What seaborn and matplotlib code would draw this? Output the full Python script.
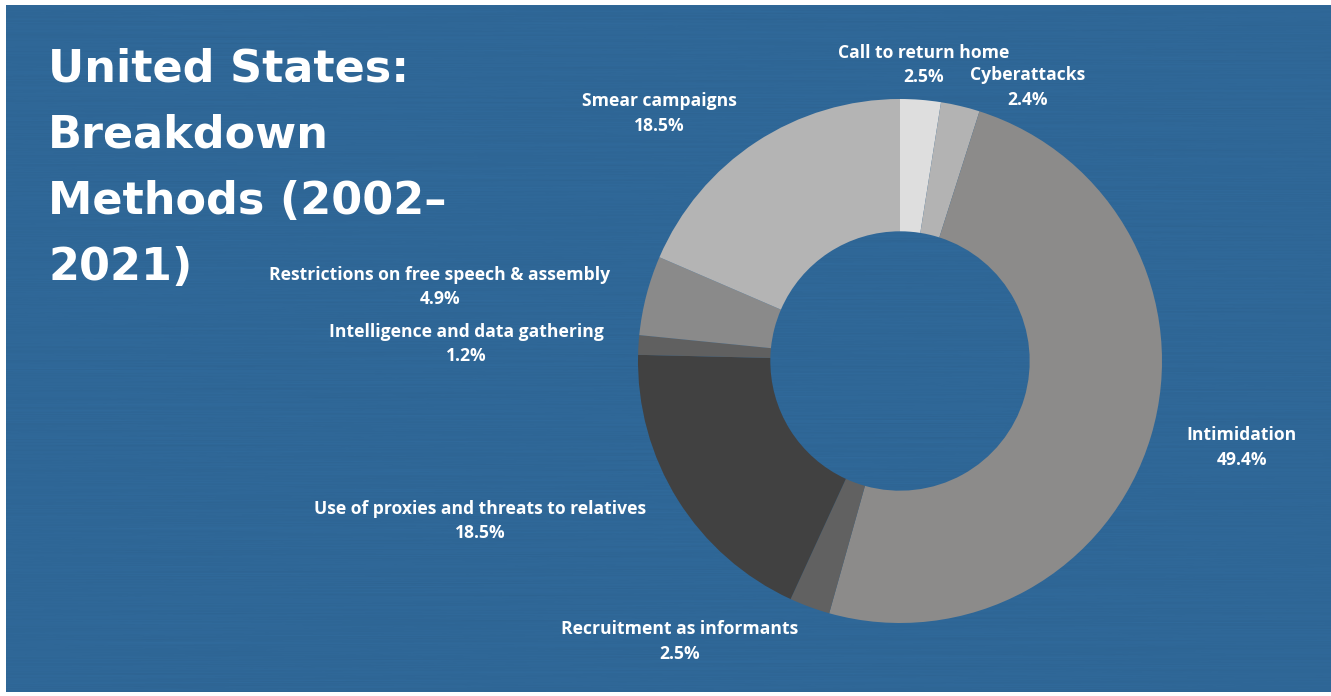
import matplotlib
matplotlib.use("Agg")
import matplotlib.pyplot as plt
from matplotlib.colors import to_rgb
import numpy as np
import seaborn as sns

# Methods, in clockwise order starting from 12 o'clock
methods = [
    "Call to return home",
    "Cyberattacks",
    "Intimidation",
    "Recruitment as informants",
    "Use of proxies and threats to relatives",
    "Intelligence and data gathering",
    "Restrictions on free speech & assembly",
    "Smear campaigns",
]
shares = [2.5, 2.4, 49.4, 2.5, 18.5, 1.2, 4.9, 18.5]

title_lines = ["United States:", "Breakdown", "Methods (2002\u2013", "2021)"]

# Styling
slice_colors = ["#dedede", "#b3b3b3", "#8c8b8a", "#616161",
                "#414141", "#606060", "#8a8a8a", "#b4b4b4"]
BG = "#2f6797"
W, H = 1331, 696

sns.set_theme(style="white")
plt.rcParams["font.family"] = ["Open Sans", "DejaVu Sans"]

fig = plt.figure(figsize=(W / 100, H / 100), dpi=100, facecolor="white")
ax = fig.add_axes([0, 0, 1, 1])

# Blue panel with a faint brushed, horizontal-streak finish
x0, y0, x1, y1 = 6, 4, W, H - 5
rows, cols = (y1 - y0), (x1 - x0) // 8
gen = np.random.default_rng(7)
streak = gen.normal(0, 1, (rows, cols))
kern = np.ones(25) / 25
streak = np.apply_along_axis(lambda r: np.convolve(r, kern, mode="same"), 1, streak)
streak = streak / np.abs(streak).max()
base = np.array(to_rgb(BG))
tex = np.clip(base[None, None, :] * (1 + 0.035 * streak[..., None]), 0, 1)
ax.imshow(tex, extent=(x0, x1, y0, y1), origin="lower", aspect="auto",
          interpolation="bilinear", zorder=0)

cx, cy, R = 900, H - 361, 262
ax.pie(shares, colors=slice_colors, startangle=90, counterclock=False,
       center=(cx, cy), radius=R,
       wedgeprops=dict(width=R * 0.505, edgecolor="none", linewidth=0),
       frame=True)
ax.set_xlim(0, W)
ax.set_ylim(0, H)
ax.set_aspect("equal")
ax.axis("off")

# Label anchors: (x, y of name line, y of percentage line), y measured from top
label_pos = {
    "Call to return home": (924, 53, 77),
    "Cyberattacks": (1028, 75, 100),
    "Smear campaigns": (659, 101, 126),
    "Restrictions on free speech & assembly": (440, 275, 299),
    "Intelligence and data gathering": (466, 332, 356),
    "Use of proxies and threats to relatives": (480, 509, 533),
    "Recruitment as informants": (680, 629, 654),
    "Intimidation": (1242, 435, 460),
}
for name, val in zip(methods, shares):
    x, yn, yp = label_pos[name]
    for txt, yy in ((name, yn), (f"{val}%", yp)):
        ax.text(x, H - yy, txt, ha="center", va="center", color="white",
                fontsize=12.6, fontweight="bold", zorder=5)

# Title
baselines = [82, 148, 214, 280]
for line, yb in zip(title_lines, baselines):
    ax.text(48, H - yb, line, ha="left", va="baseline", color="white",
            fontsize=32, fontweight="bold", family=["DejaVu Sans"], zorder=5)

fig.savefig("out.png", dpi=100, facecolor="white")
